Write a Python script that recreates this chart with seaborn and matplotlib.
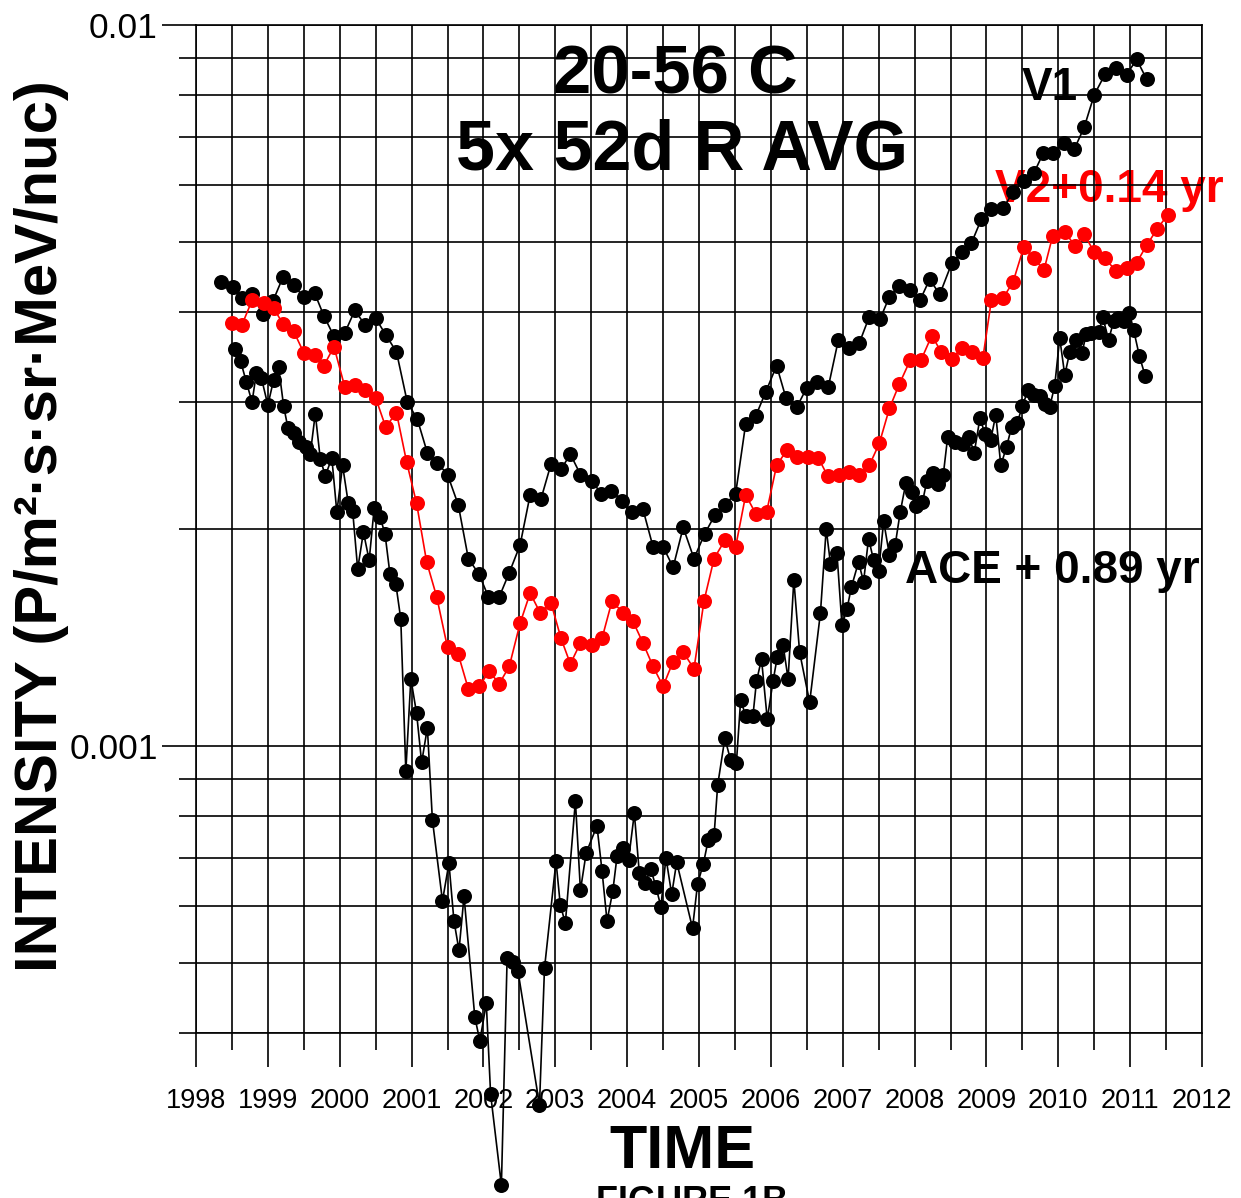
import numpy as np
import pandas as pd
import matplotlib
matplotlib.use('Agg')
import matplotlib.pyplot as plt
import seaborn as sns
from matplotlib.ticker import MultipleLocator, FixedLocator, FixedFormatter, NullFormatter, LogLocator

sns.set_theme(style='white')
plt.rcParams['font.family'] = ['Liberation Sans', 'DejaVu Sans']

# ---------------- data ----------------
v1_years = [1998.35, 1998.51, 1998.64, 1998.78, 1998.93, 1999.07, 1999.21, 1999.36, 1999.50, 1999.65,
            1999.78, 1999.92, 2000.07, 2000.21, 2000.35, 2000.50, 2000.64, 2000.79, 2000.94, 2001.08,
            2001.22, 2001.36, 2001.50, 2001.65, 2001.79, 2001.94, 2002.07, 2002.22, 2002.36, 2002.51,
            2002.65, 2002.80, 2002.94, 2003.08, 2003.21, 2003.35, 2003.51, 2003.64, 2003.78, 2003.93,
            2004.07, 2004.22, 2004.36, 2004.50, 2004.64, 2004.78, 2004.93, 2005.08, 2005.22, 2005.36,
            2005.51, 2005.65, 2005.79, 2005.93, 2006.08, 2006.21, 2006.36, 2006.50, 2006.64, 2006.80,
            2006.94, 2007.09, 2007.23, 2007.37, 2007.52, 2007.65, 2007.79, 2007.93, 2008.08, 2008.21,
            2008.35, 2008.52, 2008.66, 2008.79, 2008.93, 2009.07, 2009.23, 2009.37, 2009.52, 2009.66,
            2009.79, 2009.93, 2010.08, 2010.22, 2010.36, 2010.50, 2010.65, 2010.80, 2010.95, 2011.09,
            2011.23]
v1_intensity = [0.00440, 0.00433, 0.00418, 0.00423, 0.00397, 0.00414, 0.00447, 0.00436, 0.00419, 0.00425,
                0.00395, 0.00370, 0.00374, 0.00402, 0.00384, 0.00392, 0.00372, 0.00352, 0.00300, 0.00284,
                0.00255, 0.00247, 0.00238, 0.00216, 0.00182, 0.00173, 0.00161, 0.00161, 0.00174, 0.00190,
                0.00223, 0.00220, 0.00246, 0.00242, 0.00254, 0.00238, 0.00233, 0.00224, 0.00226, 0.00219,
                0.00211, 0.00213, 0.00189, 0.00189, 0.00177, 0.00201, 0.00182, 0.00197, 0.00209, 0.00216,
                0.00224, 0.00280, 0.00287, 0.00310, 0.00337, 0.00304, 0.00295, 0.00314, 0.00320, 0.00315,
                0.00366, 0.00356, 0.00362, 0.00394, 0.00391, 0.00420, 0.00434, 0.00429, 0.00416, 0.00444,
                0.00423, 0.00468, 0.00484, 0.00498, 0.00538, 0.00555, 0.00557, 0.00586, 0.00608, 0.00623,
                0.00664, 0.00665, 0.00687, 0.00672, 0.00721, 0.00800, 0.00854, 0.00871, 0.00853, 0.00896,
                0.00841]

v2_years = [1998.50, 1998.64, 1998.78, 1998.94, 1999.08, 1999.21, 1999.36, 1999.50, 1999.65, 1999.78,
            1999.92, 2000.07, 2000.21, 2000.35, 2000.50, 2000.64, 2000.79, 2000.93, 2001.07, 2001.21,
            2001.35, 2001.50, 2001.65, 2001.79, 2001.94, 2002.08, 2002.22, 2002.36, 2002.51, 2002.65,
            2002.79, 2002.94, 2003.08, 2003.21, 2003.35, 2003.51, 2003.65, 2003.79, 2003.94, 2004.08,
            2004.22, 2004.36, 2004.50, 2004.64, 2004.78, 2004.93, 2005.07, 2005.21, 2005.36, 2005.51,
            2005.65, 2005.79, 2005.94, 2006.08, 2006.22, 2006.36, 2006.51, 2006.66, 2006.79, 2006.95,
            2007.09, 2007.23, 2007.37, 2007.51, 2007.65, 2007.79, 2007.94, 2008.09, 2008.24, 2008.37,
            2008.52, 2008.66, 2008.80, 2008.95, 2009.07, 2009.23, 2009.37, 2009.52, 2009.66, 2009.80,
            2009.92, 2010.09, 2010.23, 2010.36, 2010.50, 2010.65, 2010.80, 2010.95, 2011.09, 2011.23,
            2011.38, 2011.52]
v2_intensity = [0.00386, 0.00384, 0.00415, 0.00411, 0.00405, 0.00385, 0.00376, 0.00351, 0.00349, 0.00337,
                0.00358, 0.00315, 0.00317, 0.00312, 0.00304, 0.00277, 0.00290, 0.00248, 0.00217, 0.00180,
                0.00161, 0.00137, 0.00134, 0.00120, 0.00121, 0.00127, 0.00122, 0.00129, 0.00148, 0.00163,
                0.00153, 0.00158, 0.00141, 0.00130, 0.00139, 0.00138, 0.00141, 0.00159, 0.00153, 0.00149,
                0.00139, 0.00129, 0.00121, 0.00131, 0.00135, 0.00128, 0.00159, 0.00182, 0.00193, 0.00189,
                0.00223, 0.00210, 0.00211, 0.00245, 0.00257, 0.00252, 0.00252, 0.00251, 0.00237, 0.00238,
                0.00240, 0.00238, 0.00245, 0.00263, 0.00294, 0.00318, 0.00343, 0.00343, 0.00371, 0.00352,
                0.00344, 0.00357, 0.00352, 0.00345, 0.00416, 0.00418, 0.00440, 0.00492, 0.00475, 0.00457,
                0.00509, 0.00517, 0.00494, 0.00513, 0.00484, 0.00475, 0.00456, 0.00460, 0.00468, 0.00495,
                0.00522, 0.00545]

ace_years = [1998.54, 1998.62, 1998.70, 1998.78, 1998.84, 1998.91, 1999.00, 1999.08, 1999.15, 1999.22,
             1999.28, 1999.37, 1999.43, 1999.53, 1999.59, 1999.66, 1999.73, 1999.80, 1999.89, 1999.96,
             2000.04, 2000.12, 2000.18, 2000.25, 2000.33, 2000.41, 2000.48, 2000.56, 2000.63, 2000.70,
             2000.78, 2000.85, 2000.92, 2000.99, 2001.07, 2001.14, 2001.22, 2001.29, 2001.43, 2001.52,
             2001.59, 2001.66, 2001.73, 2001.88, 2001.95, 2002.04, 2002.10, 2002.25, 2002.33, 2002.41,
             2002.48, 2002.78, 2002.85, 2003.01, 2003.07, 2003.14, 2003.28, 2003.35, 2003.43, 2003.58,
             2003.65, 2003.72, 2003.80, 2003.86, 2003.94, 2004.02, 2004.10, 2004.17, 2004.25, 2004.33,
             2004.40, 2004.47, 2004.54, 2004.62, 2004.69, 2004.91, 2004.98, 2005.06, 2005.13, 2005.21,
             2005.26, 2005.36, 2005.44, 2005.52, 2005.58, 2005.65, 2005.75, 2005.80, 2005.87, 2005.95,
             2006.03, 2006.09, 2006.17, 2006.24, 2006.32, 2006.40, 2006.54, 2006.69, 2006.77, 2006.83,
             2006.92, 2006.99, 2007.06, 2007.12, 2007.22, 2007.29, 2007.36, 2007.43, 2007.50, 2007.57,
             2007.65, 2007.73, 2007.80, 2007.88, 2007.96, 2008.02, 2008.11, 2008.17, 2008.25, 2008.33,
             2008.40, 2008.46, 2008.56, 2008.68, 2008.76, 2008.83, 2008.91, 2008.98, 2009.06, 2009.13,
             2009.20, 2009.28, 2009.35, 2009.43, 2009.50, 2009.58, 2009.66, 2009.74, 2009.81, 2009.88,
             2009.95, 2010.02, 2010.09, 2010.16, 2010.25, 2010.33, 2010.39, 2010.46, 2010.56, 2010.62,
             2010.70, 2010.77, 2010.83, 2010.92, 2010.99, 2011.05, 2011.13, 2011.21]
ace_intensity = [0.00355, 0.00342, 0.00320, 0.00300, 0.00329, 0.00324, 0.00297, 0.00322, 0.00335, 0.00296,
                 0.00276, 0.00272, 0.00264, 0.00260, 0.00254, 0.00289, 0.00250, 0.00237, 0.00251, 0.00211,
                 0.00245, 0.00217, 0.00212, 0.00176, 0.00198, 0.00181, 0.00214, 0.00208, 0.00197, 0.00173,
                 0.00168, 0.00150, 0.000923, 0.00124, 0.00111, 0.000949, 0.00106, 0.000790, 0.000610, 0.000688,
                 0.000572, 0.000521, 0.000619, 0.000421, 0.000390, 0.000440, 0.000329, 0.000246, 0.000509, 0.000501,
                 0.000488, 0.000318, 0.000492, 0.000692, 0.000602, 0.000568, 0.000839, 0.000631, 0.000711, 0.000775,
                 0.000672, 0.000572, 0.000629, 0.000704, 0.000723, 0.000696, 0.000807, 0.000666, 0.000646, 0.000675,
                 0.000638, 0.000599, 0.000700, 0.000623, 0.000690, 0.000559, 0.000644, 0.000686, 0.000742, 0.000752,
                 0.000883, 0.001025, 0.000956, 0.000946, 0.00116, 0.00110, 0.00110, 0.00123, 0.00132, 0.00109,
                 0.00123, 0.00133, 0.00138, 0.00124, 0.00170, 0.00135, 0.00115, 0.00153, 0.00200, 0.00179,
                 0.00185, 0.00147, 0.00155, 0.00166, 0.00180, 0.00169, 0.00194, 0.00181, 0.00175, 0.00205,
                 0.00184, 0.00190, 0.00211, 0.00232, 0.00225, 0.00215, 0.00218, 0.00233, 0.00239, 0.00231,
                 0.00238, 0.00268, 0.00264, 0.00262, 0.00268, 0.00255, 0.00285, 0.00271, 0.00266, 0.00288,
                 0.00245, 0.00260, 0.00277, 0.00281, 0.00296, 0.00312, 0.00307, 0.00306, 0.00298, 0.00295,
                 0.00316, 0.00368, 0.00327, 0.00352, 0.00366, 0.00351, 0.00373, 0.00374, 0.00375, 0.00393,
                 0.00366, 0.00388, 0.00392, 0.00389, 0.00399, 0.00377, 0.00347, 0.00326]

year_ticks = list(range(1998, 2013))
year_labels = [str(y) for y in year_ticks]
y_major_ticks = [0.001, 0.01]
y_major_labels = ['0.001', '0.01']

# ---------------- figure ----------------
fig = plt.figure(figsize=(12.41, 11.98), dpi=100)
fig.patch.set_facecolor('white')
ax = fig.add_axes([196 / 1241, 165 / 1198, 1006 / 1241, 1008 / 1198])
ax.set_facecolor('white')
ax.set_axisbelow(True)


def draw(years, vals, color):
    df = pd.DataFrame({'year': years, 'intensity': vals})
    sns.lineplot(data=df, x='year', y='intensity', ax=ax, color=color, sort=False,
                 estimator=None, marker='o', markersize=10.8, markeredgewidth=0,
                 markerfacecolor=color, linewidth=1.2, clip_on=False, zorder=2)


draw(v1_years, v1_intensity, 'black')
draw(ace_years, ace_intensity, 'black')
draw(v2_years, v2_intensity, '#FF0000')

ax.set_yscale('log')
ax.set_xlim(1998, 2012)
ax.set_ylim(0.0004, 0.01)
ax.set_xlabel('')
ax.set_ylabel('')

ax.xaxis.set_major_locator(FixedLocator(year_ticks))
ax.xaxis.set_major_formatter(FixedFormatter(year_labels))
ax.xaxis.set_minor_locator(MultipleLocator(0.5))
ax.yaxis.set_major_locator(FixedLocator(y_major_ticks))
ax.yaxis.set_major_formatter(FixedFormatter(y_major_labels))
ax.yaxis.set_minor_locator(LogLocator(base=10, subs=np.arange(2, 10)))
ax.yaxis.set_minor_formatter(NullFormatter())

ax.grid(which='both', color='black', linewidth=1.2)
ax.tick_params(which='both', bottom=True, left=True, top=False, right=False,
               direction='out', color='black', width=1.2)
ax.tick_params(which='major', length=24.5)
ax.tick_params(which='minor', length=12.2)
ax.tick_params(axis='x', labelsize=19.5, pad=15, labelcolor='black')
ax.tick_params(axis='y', labelsize=25.5, pad=3, labelcolor='black')
for s in ax.spines.values():
    s.set_color('black')
    s.set_linewidth(1.2)
    s.set_visible(True)

bold = dict(fontweight='bold', transform=fig.transFigure, zorder=0.3)
ax.text(675 / 1241, 1 - 94 / 1198, '20-56 C', ha='center', va='baseline', fontsize=49.5, color='black', **bold)
ax.text(682 / 1241, 1 - 170 / 1198, '5x 52d R AVG', ha='center', va='baseline', fontsize=50.5, color='black', **bold)
ax.text(1022 / 1241, 1 - 100 / 1198, 'V1', ha='left', va='baseline', fontsize=33, color='black', **bold)
ax.text(995 / 1241, 1 - 202 / 1198, 'V2+0.14 yr', ha='left', va='baseline', fontsize=33, color='#FF0000', **bold)
ax.text(905 / 1241, 1 - 583 / 1198, 'ACE + 0.89 yr', ha='left', va='baseline', fontsize=33, color='black', **bold)

fig.text(42 / 1241, 1 - 526 / 1198, 'INTENSITY (P/m²·s·sr·MeV/nuc)', rotation=90,
         ha='center', va='center', fontsize=43, fontweight='bold', color='black')
fig.text(682 / 1241, 1 - 1168 / 1198, 'TIME', ha='center', va='baseline',
         fontsize=44, fontweight='bold', color='black')
fig.text(692 / 1241, 1 - 1212 / 1198, 'FIGURE 1B', ha='center', va='baseline',
         fontsize=26, fontweight='bold', color='black')

fig.savefig('out.png', dpi=100)
